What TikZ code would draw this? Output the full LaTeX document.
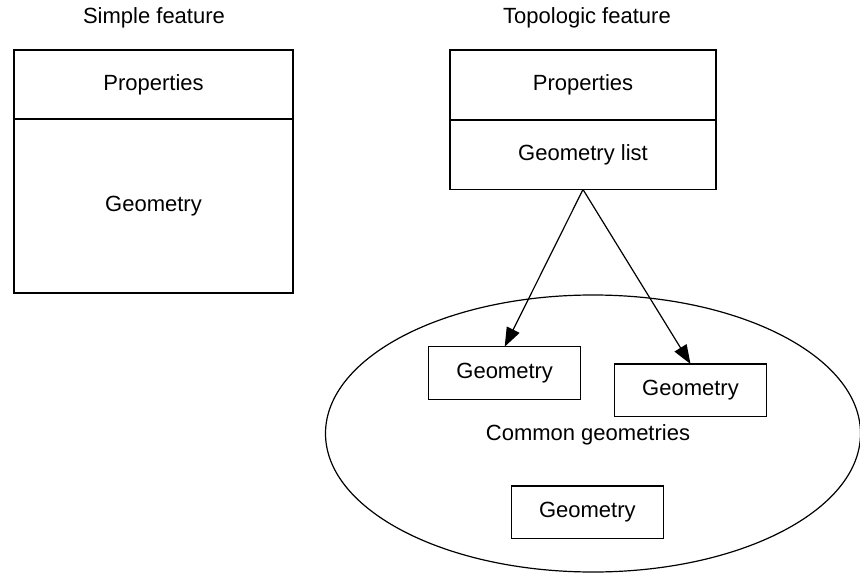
\documentclass[tikz,border=0pt]{standalone}
\usepackage{fontspec}
\setmainfont{Liberation Sans}
\usetikzlibrary{arrows.meta,shapes.geometric}

\tikzset{
  box/.style={draw, line width=1.3pt, rectangle, inner sep=0pt, outer sep=0pt, anchor=north west},
  txt/.style={inner sep=0pt, font=\fontsize{22}{26}\selectfont},
  link/.style={line width=1.2pt, -{Triangle[length=19pt,width=14pt]}},
  cloud/.style={draw, line width=1.2pt, ellipse, inner sep=0pt, outer sep=0pt}
}

\begin{document}
\begin{tikzpicture}[x=1pt, y=-1pt]
  \useasboundingbox (0,0) rectangle (860,573);
  \fill[white] (0,0) rectangle (860,573);

  % simple feature: one record with properties and a geometry
  \node[txt] (stitle) at (154,18) {Simple feature};
  \node[box, minimum width=279pt, minimum height=69pt] (sprop) at (14,50) {};
  \node[txt] (sproptext) at (sprop.center) {Properties};
  \node[box, minimum width=279pt, minimum height=174pt] (sgeom) at (sprop.south west) {};
  \node[txt] (sgeomtext) at (sgeom.center) {Geometry};

  % topologic feature: properties and a list pointing to shared geometries
  \node[txt] (ttitle) at (587,18) {Topologic feature};
  \node[box, minimum width=266pt, minimum height=70pt] (tprop) at (450,50) {};
  \node[txt] (tproptext) at (tprop.center) {Properties};
  \node[box, minimum width=266pt, minimum height=69.5pt] (tlist) at (tprop.south west) {};
  \node[txt] (tlisttext) at (tlist.center) {Geometry list};

  % pool of common geometries
  \node[cloud, minimum width=535pt, minimum height=277pt] (pool) at (593,433.5) {};
  \node[txt] (pooltext) at (588,435) {Common geometries};
  \node[box, minimum width=152pt, minimum height=52.5pt] (g1) at (428.7,346.7) {};
  \node[txt] (g1text) at (g1.center) {Geometry};
  \node[box, minimum width=152.4pt, minimum height=52.7pt] (g2) at (614.3,364) {};
  \node[txt] (g2text) at (g2.center) {Geometry};
  \node[box, minimum width=152pt, minimum height=52.7pt] (g3) at (511.3,486) {};
  \node[txt] (g3text) at (g3.center) {Geometry};

  % references from the geometry list
  \draw[link] (tlist.south) -- (g1.north);
  \draw[link] (tlist.south) -- (g2.north);
\end{tikzpicture}
\end{document}
